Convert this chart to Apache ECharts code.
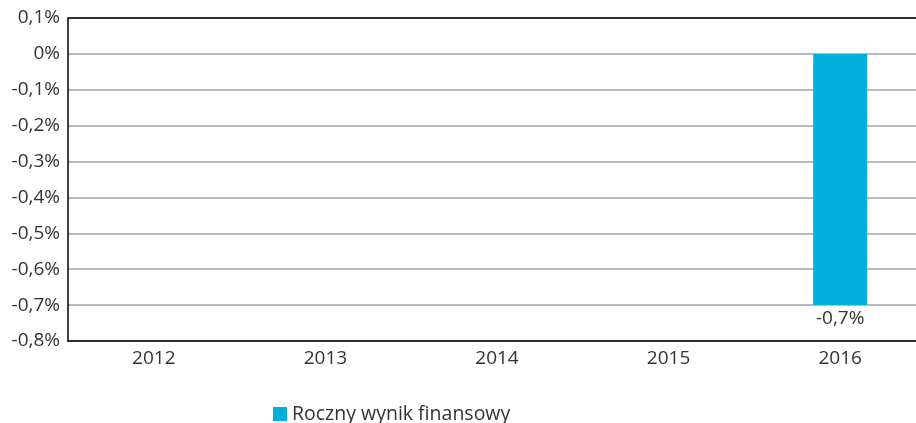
<!DOCTYPE html>
<html>
<head>
<meta charset="utf-8">
<script src="https://cdn.jsdelivr.net/npm/echarts@6.0.0/dist/echarts.min.js"></script>
<style>
  html, body { margin: 0; padding: 0; background: #fff; overflow: hidden; }
  /* the plot runs a little past the right edge of the picture */
  #chart { width: 926px; height: 423px; }
</style>
</head>
<body>
<div id="chart"></div>
<script>
// --- Data ---
const years = ['2012', '2013', '2014', '2015', '2016'];
const wynik = [null, null, null, null, -0.7];
const seriesName = 'Roczny wynik finansowy';

const FONT = '"Open Sans", "Noto Sans", sans-serif';
const fmtPct = (v) => {
    const r = Math.round(v * 10) / 10;
    return (r === 0 ? '0' : r.toFixed(1).replace('.', ',')) + '%';
};

const chart = echarts.init(document.getElementById('chart'));
chart.setOption({
    animation: false,
    textStyle: { fontFamily: FONT },
    grid: { left: 68, top: 18, height: 323, right: 0, containLabel: false },
    legend: {
        left: 268, top: 399,
        itemWidth: 14, itemHeight: 14, itemGap: 9,
        icon: 'rect',
        textStyle: { fontFamily: FONT, fontSize: 19.5, color: '#333' },
        data: [seriesName]
    },
    xAxis: [{
        type: 'category',
        data: years,
        axisLine: { onZero: false, lineStyle: { color: '#000', width: 1.5 } },
        axisTick: { show: false },
        axisLabel: { color: '#333', fontSize: 19, fontFamily: FONT, margin: 8 }
    }, {
        type: 'category',
        data: years,
        position: 'top',
        axisLine: { onZero: false, lineStyle: { color: '#000', width: 1.5 } },
        axisTick: { show: false },
        axisLabel: { show: false }
    }],
    yAxis: {
        type: 'value',
        min: -0.8, max: 0.1, interval: 0.1,
        axisLine: { show: true, lineStyle: { color: '#000', width: 1.5 } },
        axisTick: { show: false },
        splitLine: { lineStyle: { color: '#b2bac2', width: 2 } },
        axisLabel: { color: '#333', fontSize: 19, fontFamily: FONT, margin: 8, formatter: fmtPct }
    },
    series: [{
        name: seriesName,
        type: 'bar',
        data: wynik,
        barWidth: '31.5%',
        itemStyle: { color: '#00b0dc' },
        label: {
            show: true, position: 'bottom', distance: 4,
            color: '#333', fontSize: 19, fontFamily: FONT,
            formatter: (p) => fmtPct(p.value)
        }
    }]
});
</script>
</body>
</html>
